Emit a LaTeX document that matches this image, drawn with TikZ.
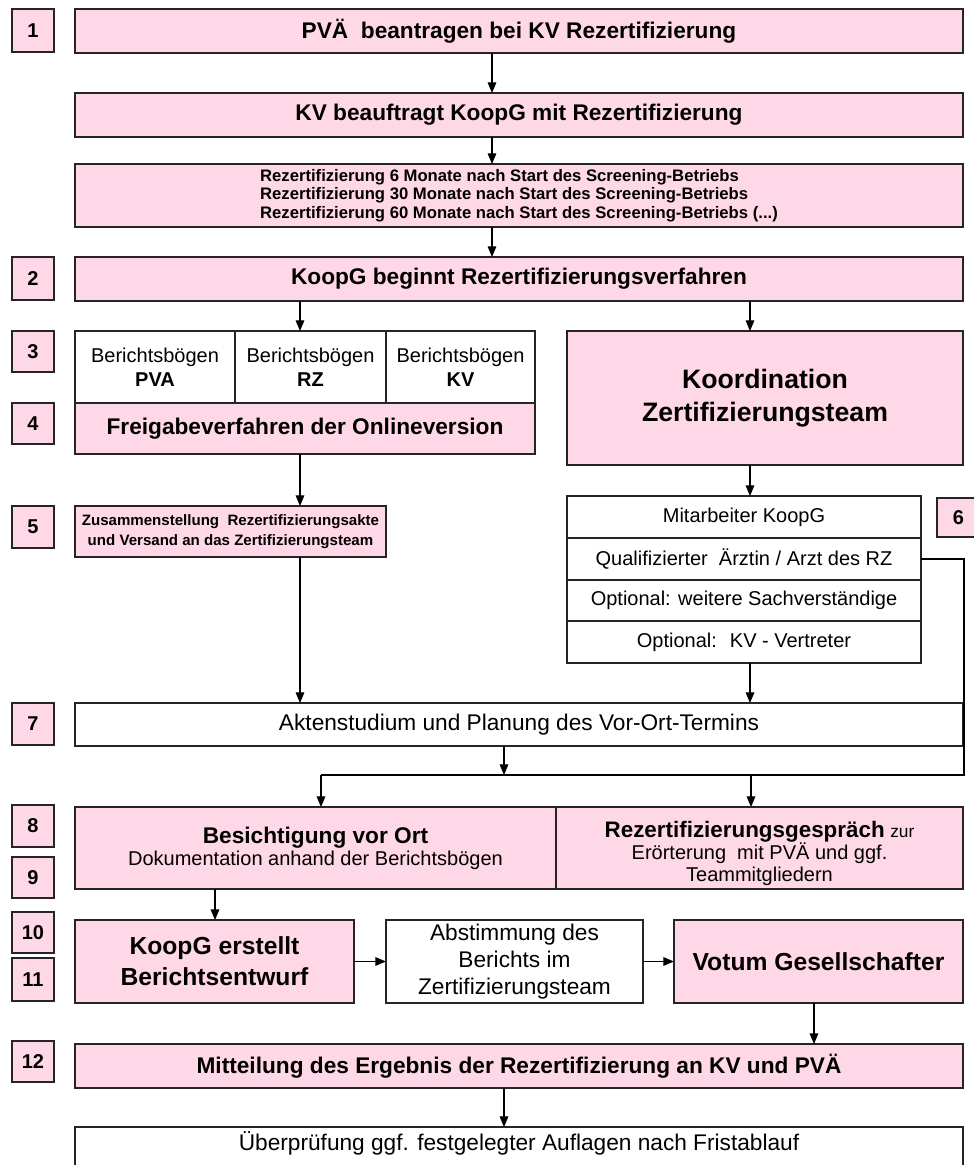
\documentclass[tikz,border=0pt]{standalone}
\usepackage{fontspec}
\setmainfont{Liberation Sans}
\usetikzlibrary{arrows.meta}
\definecolor{pinkfill}{RGB}{255,216,231}
\definecolor{edgecol}{RGB}{40,35,40}
\newcommand\bx[7]{%
  \node[#6, anchor=north west, minimum width={(#4-#2)*0.75pt}, minimum height={(#5-#3)*0.75pt}] (#1) at (#2,#3) {#7};}
\tikzset{
  base/.style={draw=edgecol, line width=1.1pt, inner sep=1pt, outer sep=0pt, align=center},
  pinkbox/.style={base, fill=pinkfill},
  whitebox/.style={base, fill=white},
  numbox/.style={pinkbox, font=\fontsize{15}{17}\selectfont\bfseries},
  mainbold/.style={font=\fontsize{17}{20}\selectfont\bfseries},
  reg/.style={font=\fontsize{17}{20}\selectfont},
  regsmall/.style={font=\fontsize{15}{18}\selectfont},
  arr/.style={draw=black, line width=0.8pt, -{Triangle[width=6.5pt,length=8pt]}},
  ln/.style={draw=black, line width=0.8pt},
}
\begin{document}
\begin{tikzpicture}[x=0.75pt,y=-0.75pt]
\useasboundingbox (0,0) rectangle (974,1165);
% number boxes
\bx{n1}{12}{9}{54}{52}{numbox}{1}
\bx{n2}{12}{257}{54}{300}{numbox}{2}
\bx{n3}{12}{331}{54}{372}{numbox}{3}
\bx{n4}{12}{403}{54}{444}{numbox}{4}
\bx{n5}{12}{506}{54}{548}{numbox}{5}
\bx{n6}{937}{498}{980}{537}{numbox}{6}
\bx{n7}{12}{703}{54}{745}{numbox}{7}
\bx{n8}{12}{805}{54}{847}{numbox}{8}
\bx{n9}{12}{857}{54}{898}{numbox}{9}
\bx{n10}{12}{912}{54}{953}{numbox}{10}
\bx{n11}{12}{958}{54}{1001}{numbox}{11}
\bx{n12}{12}{1041}{54}{1082}{numbox}{12}
% main boxes
\bx{b1}{75}{9}{963}{53}{pinkbox,mainbold}{PVÄ~ beantragen bei KV Rezertifizierung}
\bx{b2}{75}{93}{963}{137}{pinkbox,mainbold}{KV beauftragt KoopG mit Rezertifizierung}
\bx{bs}{75}{164}{963}{227}{pinkbox,font=\fontsize{12.5}{14}\selectfont\bfseries,align=left}{Rezertifizierung 6 Monate nach Start des Screening-Betriebs\\Rezertifizierung 30 Monate nach Start des Screening-Betriebs\\Rezertifizierung 60 Monate nach Start des Screening-Betriebs (...)}
\bx{b3}{75}{257}{963}{301}{pinkbox,mainbold}{KoopG beginnt Rezertifizierungsverfahren}
\bx{r1}{75}{331}{235}{403}{whitebox,regsmall}{Berichtsbögen\\\textbf{PVA}}
\bx{r2}{235}{331}{386}{403}{whitebox,regsmall}{Berichtsbögen\\\textbf{RZ}}
\bx{r3}{386}{331}{535}{403}{whitebox,regsmall}{Berichtsbögen\\\textbf{KV}}
\bx{fr}{75}{403}{535}{454}{pinkbox,mainbold}{Freigabeverfahren der Onlineversion}
\draw[draw=edgecol, line width=2pt] (fr.north west) -- (fr.north east);
\bx{ko}{567}{331}{963}{465}{pinkbox,font=\fontsize{20}{25}\selectfont\bfseries}{Koordination\\Zertifizierungsteam}
\bx{zu}{75}{506}{386}{557}{pinkbox,font=\fontsize{11.3}{15}\selectfont\bfseries}{Zusammenstellung~ Rezertifizierungsakte\\und Versand an das Zertifizierungsteam}
\bx{l1}{567}{496}{921}{538}{whitebox,regsmall}{Mitarbeiter KoopG}
\bx{l2}{567}{538}{921}{580}{whitebox,regsmall}{Qualifizierter~ Ärztin / Arzt des RZ}
\bx{l3}{567}{580}{921}{621}{whitebox,regsmall}{Optional: weitere Sachverständige}
\bx{l4}{567}{621}{921}{663}{whitebox,regsmall}{Optional:~ KV - Vertreter}
\bx{ak}{75}{703}{963}{746}{whitebox,reg}{Aktenstudium und Planung des Vor-Ort-Termins}
\bx{bl}{75}{807}{556}{889}{pinkbox,font=\fontsize{15}{16.5}\selectfont}{{\fontsize{17}{20}\selectfont\bfseries Besichtigung vor Ort}\\Dokumentation anhand der Berichtsbögen}
\bx{br}{556}{807}{963}{889}{pinkbox,inner sep=0pt,font=\fontsize{15}{16.5}\selectfont}{\rule{0pt}{21pt}{\fontsize{16.8}{20}\selectfont\bfseries Rezertifizierungsgespräch} {\fontsize{13}{16}\selectfont zur}\\Erörterung~ mit PVÄ und ggf.\\Teammitgliedern}
\bx{bk}{75}{920}{354}{1003}{pinkbox,font=\fontsize{18.5}{23}\selectfont\bfseries}{KoopG erstellt\\Berichtsentwurf}
\bx{ab}{386}{920}{643}{1003}{whitebox,font=\fontsize{17}{20.5}\selectfont}{Abstimmung des\\Berichts im\\Zertifizierungsteam}
\bx{vo}{674}{920}{963}{1003}{pinkbox,font=\fontsize{18.5}{23}\selectfont\bfseries}{Votum Gesellschafter}
\bx{mi}{75}{1044}{963}{1088}{pinkbox,mainbold}{Mitteilung des Ergebnis der Rezertifizierung an KV und PVÄ}
\bx{ue}{75}{1127}{963}{1185}{whitebox,reg,text depth=22pt}{Überprüfung ggf. festgelegter Auflagen nach Fristablauf}
% helper coordinates
\coordinate (xa) at (492,0);
\coordinate (xl) at (300,0);
\coordinate (xr) at (750,0);
\coordinate (xm) at (504,0);
\coordinate (xk) at (215,0);
\coordinate (xv) at (814,0);
\coordinate (cr) at (964,775);
\coordinate (jl) at (321,775);
\coordinate (jr) at (751,775);
\coordinate (jm) at (504,775);
% connectors
\draw[arr] (b1.south -| xa) -- (b2.north -| xa);
\draw[arr] (b2.south -| xa) -- (bs.north -| xa);
\draw[arr] (bs.south -| xa) -- (b3.north -| xa);
\draw[arr] (b3.south -| xl) -- (r2.north -| xl);
\draw[arr] (b3.south -| xr) -- (ko.north -| xr);
\draw[arr] (fr.south -| xl) -- (zu.north -| xl);
\draw[arr] (ko.south -| xr) -- (l1.north -| xr);
\draw[arr] (zu.south -| xl) -- (ak.north -| xl);
\draw[arr] (l4.south -| xr) -- (ak.north -| xr);
\draw[arr] (ak.south -| xm) -- (jm);
\draw[ln] (l2.east) -| (cr) -- (jl);
\draw[arr] (jl) -- (bl.north -| jl);
\draw[arr] (jr) -- (br.north -| jr);
\draw[arr] (bl.south -| xk) -- (bk.north -| xk);
\draw[arr] (bk.east) -- (ab.west);
\draw[arr] (ab.east) -- (vo.west);
\draw[arr] (vo.south -| xv) -- (mi.north -| xv);
\draw[arr] (mi.south -| xm) -- (ue.north -| xm);
\end{tikzpicture}
\end{document}
